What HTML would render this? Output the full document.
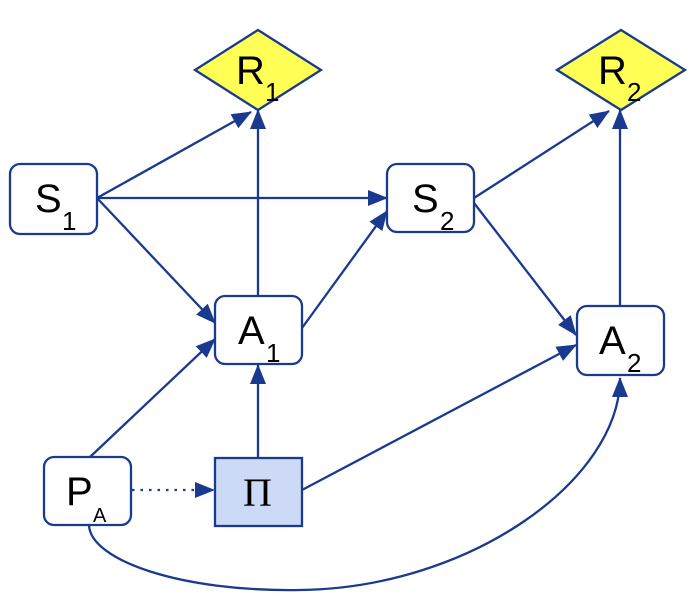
<!DOCTYPE html>
<html><head><style>body{margin:0;background:#fff}svg{display:block}</style></head><body>
<svg width="700" height="604" viewBox="0 0 700 604" xmlns="http://www.w3.org/2000/svg" font-family="Liberation Sans, sans-serif">
<defs>
<marker id="b" markerWidth="20" markerHeight="16" refX="19" refY="8" orient="auto" markerUnits="userSpaceOnUse"><path d="M0,0 L20,8 L0,16 z" fill="#1a3a8f"/></marker></defs>
<g stroke="#1a3a8f" stroke-width="2.3" fill="none">
<line x1="97" y1="198" x2="251" y2="112" marker-end="url(#b)"/>
<line x1="258" y1="296" x2="258" y2="110" marker-end="url(#b)"/>
<line x1="97" y1="198" x2="387" y2="198" marker-end="url(#b)"/>
<line x1="97" y1="198" x2="215" y2="323" marker-end="url(#b)"/>
<line x1="90" y1="457" x2="215" y2="339" marker-end="url(#b)"/>
<line x1="258" y1="457" x2="258" y2="365" marker-end="url(#b)"/>
<line x1="302" y1="490" x2="576" y2="345" marker-end="url(#b)"/>
<line x1="302" y1="328" x2="387" y2="211" marker-end="url(#b)"/>
<line x1="474" y1="198" x2="609" y2="111" marker-end="url(#b)"/>
<line x1="620" y1="306" x2="620" y2="110" marker-end="url(#b)"/>
<line x1="474" y1="203" x2="576" y2="335" marker-end="url(#b)"/>
<line x1="132" y1="490" x2="214" y2="490" stroke-dasharray="2.5,6" marker-end="url(#b)"/>
<path d="M89,525 C90,560 180,592 300,590 C470,588 620,480 620,378" marker-end="url(#b)"/>
<polygon points="195,70 258,30 321,70 258,110" fill="#ffff55"/>
<polygon points="557,70 621,30 685,70 621,110" fill="#ffff55"/>
<rect x="10" y="164" width="87" height="70" rx="10" fill="#fff"/>
<rect x="387" y="164" width="87" height="68" rx="10" fill="#fff"/>
<rect x="215" y="296" width="87" height="68" rx="10" fill="#fff"/>
<rect x="577" y="306" width="87" height="69" rx="10" fill="#fff"/>
<rect x="44" y="457" width="87" height="68" rx="10" fill="#fff"/>
<rect x="215" y="458" width="87" height="68" fill="#ccdaf5"/>
</g>
<g fill="#000" font-size="40">
<text x="236" y="84">R</text><text x="265" y="101" font-size="26">1</text>
<text x="598" y="84">R</text><text x="627" y="101" font-size="26">2</text>
<text x="35" y="212">S</text><text x="62" y="230" font-size="26">1</text>
<text x="412" y="212">S</text><text x="440" y="230" font-size="26">2</text>
<text x="238" y="344">A</text><text x="266" y="362" font-size="26">1</text>
<text x="599" y="354">A</text><text x="627" y="372" font-size="26">2</text>
<text x="66" y="505">P</text><text x="93" y="522" font-size="20">A</text>
<text x="243" y="506" font-family="Liberation Serif, serif" font-size="40">Π</text>
</g>
</svg>
</body></html>
